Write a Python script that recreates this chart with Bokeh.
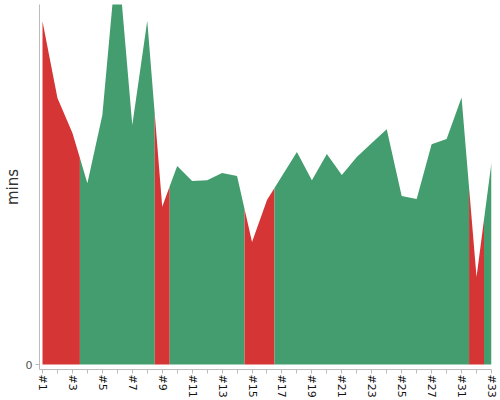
from bokeh.plotting import figure
from bokeh.models import FixedTicker, Range1d, ColumnDataSource
from bokeh.embed import file_html
from bokeh.resources import INLINE

categories = ["#1", "#2", "#3", "#4", "#5", "#6", "#7", "#8", "#9", "#10",
              "#11", "#12", "#13", "#14", "#15", "#16", "#17", "#18", "#19", "#20",
              "#21", "#22", "#23", "#24", "#25", "#26", "#27", "#29", "#31", "#32", "#33"]
mins = [57.2, 44.4, 38.6, 30.2, 41.6, 69.0, 39.9, 57.3, 26.3, 33.1,
        30.6, 30.7, 31.9, 31.4, 20.4, 27.4, 31.4, 35.4, 30.7, 35.1,
        31.6, 34.6, 36.9, 39.2, 28.1, 27.6, 36.7, 37.6, 44.5, 14.6, 33.7]
status = ["bad", "bad", "bad", "good", "good", "good", "good", "good", "bad", "good",
          "good", "good", "good", "good", "bad", "bad", "good", "good", "good", "good",
          "good", "good", "good", "good", "good", "good", "good", "good", "good", "bad", "good"]
palette = {"bad": "#d63535", "good": "#449d6e"}

n = len(mins)
# group consecutive categories of the same status into runs; boundaries at midpoints
xs, ys, colors = [], [], []
a = 0
while a < n:
    b = a
    while b + 1 < n and status[b + 1] == status[a]:
        b += 1
    if a > 0:
        xl, yl = a - 0.5, (mins[a - 1] + mins[a]) / 2
    else:
        xl, yl = 0, mins[0]
    if b < n - 1:
        xr, yr = b + 0.5, (mins[b] + mins[b + 1]) / 2
    else:
        xr, yr = n - 1, mins[n - 1]
    px = [xl, xl] + list(range(a, b + 1)) + [xr, xr]
    py = [0, yl] + mins[a:b + 1] + [yr, 0]
    xs.append(px)
    ys.append(py)
    colors.append(palette[status[a]])
    a = b + 1

src = ColumnDataSource(dict(xs=xs, ys=ys, color=colors))

p = figure(width=500, height=400, output_backend="svg", toolbar_location=None,
           x_range=Range1d(-0.2, n - 1), y_range=Range1d(-0.83, 60),
           min_border_top=4, min_border_right=9, min_border_left=0, min_border_bottom=0)
p.patches("xs", "ys", source=src, fill_color="color", line_color=None)

p.grid.visible = False
p.outline_line_color = None
p.background_fill_color = "white"

xa = p.xaxis[0]
xa.ticker = FixedTicker(ticks=list(range(n)))
xa.major_label_overrides = {i: (categories[i] if i % 2 == 0 else "") for i in range(n)}
xa.major_label_orientation = "vertical"
xa.major_label_text_font = "DejaVu Sans"
xa.major_label_text_font_size = "11px"
xa.major_label_text_color = "#111111"
xa.axis_line_color = "#bbbbbb"
xa.major_tick_line_color = "#bbbbbb"
xa.major_tick_in = 0
xa.major_tick_out = 4
xa.minor_tick_line_color = None
xa.major_label_standoff = 1

ya = p.yaxis[0]
ya.ticker = FixedTicker(ticks=[0])
ya.axis_label = "mins"
ya.axis_label_text_font = "DejaVu Sans"
ya.axis_label_text_font_style = "normal"
ya.axis_label_text_font_size = "15px"
ya.axis_label_text_color = "#333333"
ya.axis_label_standoff = 1
ya.major_label_text_font = "DejaVu Sans"
ya.major_label_text_font_size = "11px"
ya.major_label_text_color = "#555555"
ya.axis_line_color = "#bbbbbb"
ya.major_tick_line_color = "#bbbbbb"
ya.major_tick_in = 0
ya.major_tick_out = 4
ya.minor_tick_line_color = None
ya.major_label_standoff = 3

open("out.html", "w").write(file_html(p, INLINE))
